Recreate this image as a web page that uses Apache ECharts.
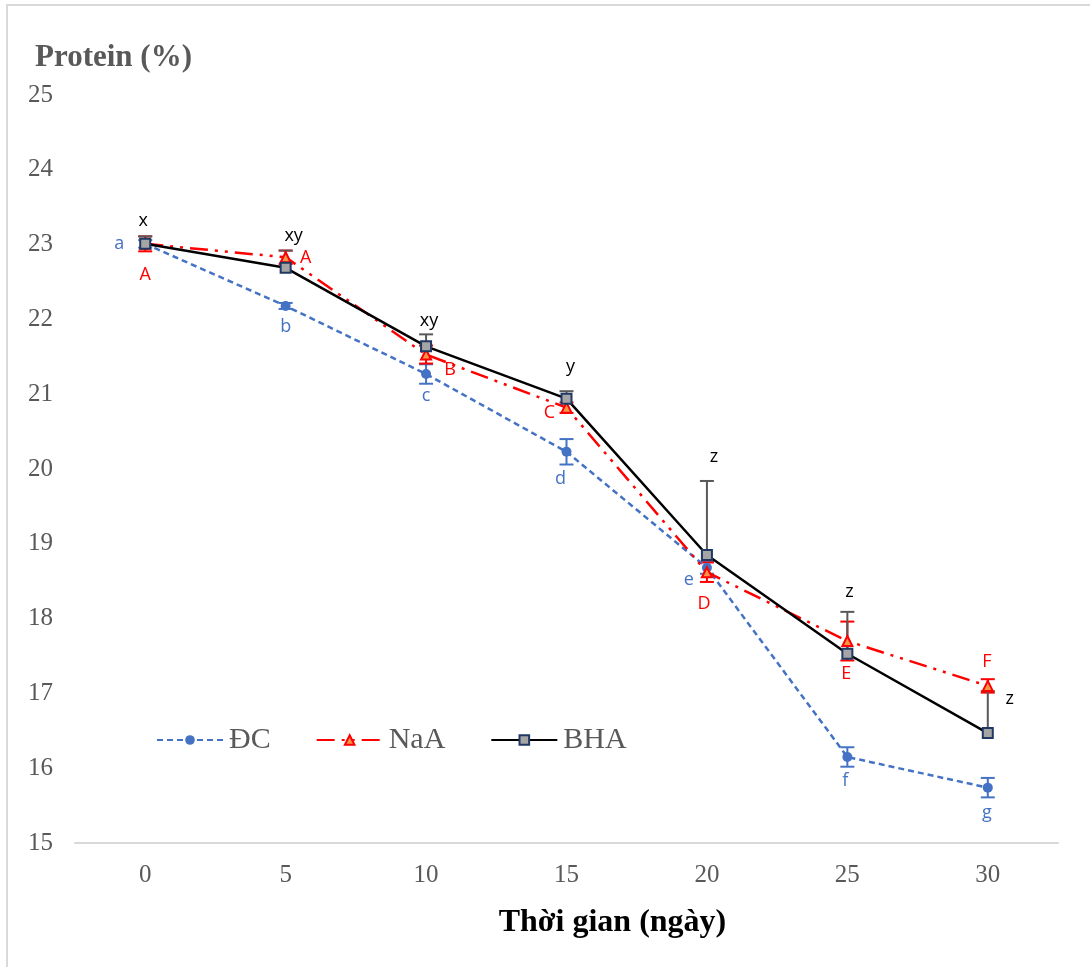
<!DOCTYPE html>
<html>
<head>
<meta charset="utf-8">
<script src="https://cdn.jsdelivr.net/npm/echarts@6/dist/echarts.min.js"></script>
<style>
  html, body { margin: 0; padding: 0; background: #fff; }
  #chart { width: 1090px; height: 967px; }
</style>
</head>
<body>
<div id="chart"></div>
<script>
var days = ['0', '5', '10', '15', '20', '25', '30'];

var dcValues = [23.01, 22.18, 21.27, 20.23, 18.68, 16.15, 15.74];
var dcErr = [0.05, 0.04, 0.13, 0.17, 0.08, 0.13, 0.13];
var dcLetters = ['a', 'b', 'c', 'd', 'e', 'f', 'g'];

var naaValues = [23.01, 22.83, 21.53, 20.82, 18.62, 17.70, 17.10];
var naaErr = [0.1, 0.09, 0.12, 0.07, 0.13, 0.26, 0.09];
var naaLetters = ['A', 'A', 'B', 'C', 'D', 'E', 'F'];

var bhaValues = [23.01, 22.69, 21.64, 20.94, 18.85, 17.53, 16.47];
var bhaErr = [0.1, 0.23, 0.16, 0.1, 0.99, 0.56, 0.56];
var bhaLetters = ['x', 'xy', 'xy', 'y', 'z', 'z', 'z'];

// label offsets in pixels (layout only)
var dcOffset = [[-26, 0], [0, 21], [0, 22], [-6, 27], [-18, 12], [-2, 24], [-1, 25]];
var naaOffset = [[0, 31], [20, 1], [24, 15], [-17, 5], [-3, 32], [-1, 33], [-1, -24]];
var bhaOffset = [[-2, -23], [8, -32], [3, -25], [4, -32], [7, -98], [2, -62], [22, -34]];

var chart = echarts.init(document.getElementById('chart'));

function errSeries(name, values, errs, color, plusOnly) {
  return {
    type: 'custom',
    name: name + '_err',
    z: 1,
    silent: true,
    data: values.map(function (v, i) {
      return [i, plusOnly ? v : v - errs[i], v + errs[i]];
    }),
    renderItem: function (params, api) {
      var lo = api.coord([api.value(0), api.value(1)]);
      var hi = api.coord([api.value(0), api.value(2)]);
      var w = 7;
      var st = { stroke: color, lineWidth: 2 };
      var kids = [
        { type: 'line', shape: { x1: lo[0], y1: lo[1], x2: hi[0], y2: hi[1] }, style: st },
        { type: 'line', shape: { x1: hi[0] - w, y1: hi[1], x2: hi[0] + w, y2: hi[1] }, style: st }
      ];
      if (!plusOnly) {
        kids.push({ type: 'line', shape: { x1: lo[0] - w, y1: lo[1], x2: lo[0] + w, y2: lo[1] }, style: st });
      }
      return { type: 'group', children: kids };
    }
  };
}

function letterSeries(name, values, letters, offsets, color) {
  return {
    type: 'custom',
    name: name + '_lbl',
    z: 10,
    silent: true,
    data: values.map(function (v, i) { return [i, v]; }),
    renderItem: function (params, api) {
      var i = params.dataIndex;
      var p = api.coord([api.value(0), api.value(1)]);
      return {
        type: 'text',
        x: p[0] + offsets[i][0],
        y: p[1] + offsets[i][1],
        style: {
          text: letters[i],
          fill: color,
          font: '18px "Open Sans", "Noto Sans", sans-serif',
          align: 'center',
          verticalAlign: 'middle'
        }
      };
    }
  };
}

var option = {
  backgroundColor: '#fff',
  animation: false,
  title: {
    text: 'Protein (%)',
    left: 30,
    top: 37,
    textStyle: {
      fontFamily: 'Liberation Serif',
      fontWeight: 'bold',
      fontSize: 31,
      color: '#595959'
    }
  },
  graphic: [{
    type: 'rect',
    shape: { x: 7, y: 5, width: 1200, height: 1100 },
    style: { fill: 'none', stroke: '#D9D9D9', lineWidth: 2 },
    silent: true
  }],
  legend: {
    data: ['ĐC', 'NaA', 'BHA'],
    left: 156,
    top: 725,
    padding: 0,
    itemWidth: 66,
    itemHeight: 12,
    itemGap: 45,
    textStyle: {
      fontFamily: 'Liberation Serif',
      fontSize: 30,
      color: '#595959',
      padding: [0, 0, 0, 1]
    }
  },
  grid: { left: 75, right: 32, top: 95, bottom: 124 },
  xAxis: {
    type: 'category',
    data: days,
    axisLine: { lineStyle: { color: '#D9D9D9', width: 2 } },
    axisTick: { show: false },
    axisLabel: {
      fontFamily: 'Liberation Serif',
      fontSize: 25,
      color: '#595959',
      margin: 20
    },
    name: 'Thời gian (ngày)',
    nameLocation: 'middle',
    nameGap: 64,
    nameTextStyle: {
      fontFamily: 'Liberation Serif',
      fontWeight: 'bold',
      fontSize: 32,
      color: '#000',
      padding: [0, 0, 0, 92]
    }
  },
  yAxis: {
    type: 'value',
    min: 15,
    max: 25,
    interval: 1,
    axisLine: { show: false },
    axisTick: { show: false },
    splitLine: { show: false },
    axisLabel: {
      fontFamily: 'Liberation Serif',
      fontSize: 25,
      color: '#595959',
      margin: 22
    }
  },
  series: [
    errSeries('ĐC', dcValues, dcErr, '#4472C4', false),
    errSeries('NaA', naaValues, naaErr, '#FF0000', false),
    errSeries('BHA', bhaValues, bhaErr, '#595959', true),
    {
      name: 'ĐC',
      type: 'line',
      z: 3,
      data: dcValues,
      symbol: 'circle',
      symbolSize: 10,
      itemStyle: { color: '#4472C4' },
      lineStyle: { color: '#4472C4', width: 2.5, type: [6, 4] }
    },
    {
      name: 'NaA',
      type: 'line',
      z: 4,
      data: naaValues,
      symbol: 'triangle',
      symbolSize: 10,
      itemStyle: { color: '#F79646', borderColor: '#FF0000', borderWidth: 2 },
      lineStyle: { color: '#FF0000', width: 2.5, type: [18, 7, 3, 7, 3, 7] }
    },
    {
      name: 'BHA',
      type: 'line',
      z: 5,
      data: bhaValues,
      symbol: 'rect',
      symbolSize: 10,
      itemStyle: { color: '#A5A5A5', borderColor: '#1F3864', borderWidth: 2 },
      lineStyle: { color: '#000', width: 2.5 }
    },
    letterSeries('ĐC', dcValues, dcLetters, dcOffset, '#4472C4'),
    letterSeries('NaA', naaValues, naaLetters, naaOffset, '#FF0000'),
    letterSeries('BHA', bhaValues, bhaLetters, bhaOffset, '#000')
  ]
};

chart.setOption(option);
</script>
</body>
</html>
